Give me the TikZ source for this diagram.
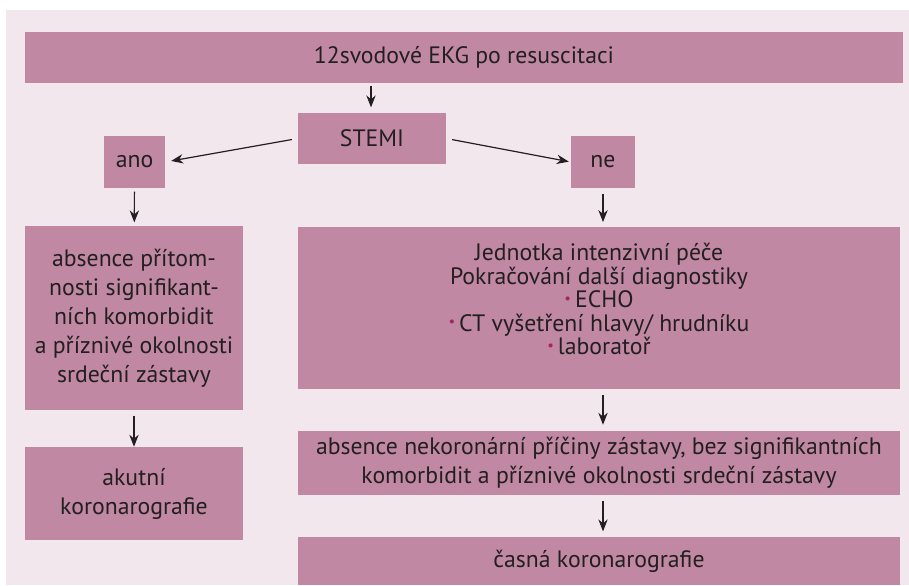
\documentclass[tikz,border=0pt]{standalone}
\usepackage{fontspec}
\setmainfont{PT Sans}
\usepackage{tikz}
\usetikzlibrary{arrows.meta}
\definecolor{boxpink}{RGB}{192,136,163}
\definecolor{backpink}{RGB}{243,231,238}
\definecolor{dotpink}{RGB}{160,40,100}
\definecolor{inkgrey}{RGB}{35,31,32}
\newcommand{\dotitem}{{\color{dotpink}\raisebox{0.18em}{\fontsize{11}{11}\selectfont\textbullet}}\,}

\begin{document}
\begin{tikzpicture}[x=0.75pt,y=-0.75pt,
    flowbox/.style={fill=boxpink,draw=none,inner sep=0pt,align=center,
      text=inkgrey,font=\fontsize{17.8}{21.75}\selectfont},
    flowarrow/.style={-{Stealth[length=9pt,width=7pt]},line width=0.9pt,draw=inkgrey}]
    % page and background
    \useasboundingbox (0,0) rectangle (909,585);
    \fill[backpink] (6,10) rectangle (909,585);
    % boxes
    \node[flowbox,minimum width=878*0.75pt,minimum height=51*0.75pt] (ekg) at (464,57.5)
      {12svodové EKG po resuscitaci};
    \node[flowbox,minimum width=148*0.75pt,minimum height=51*0.75pt] (stemi) at (372,138.5)
      {STEMI};
    \node[flowbox,minimum width=61*0.75pt,minimum height=52*0.75pt] (ano) at (134.5,162)
      {ano};
    \node[flowbox,minimum width=64*0.75pt,minimum height=52*0.75pt] (ne) at (603,162)
      {ne};
    \node[flowbox,minimum width=218*0.75pt,minimum height=184*0.75pt] (bezkomorb) at (134,318)
      {absence přítom-\\nosti signifikant-\\ních komorbidit\\a příznivé okolnosti\\srdeční zástavy};
    \node[flowbox,minimum width=602*0.75pt,minimum height=162*0.75pt] (jip) at (599,308) {};
    \node[flowbox,font=\fontsize{17.8}{17.6}\selectfont,fill=none] (jiptext) at (599,299)
      {Jednotka intenzivní péče\\Pokračování další diagnostiky\\\dotitem ECHO\\
       \dotitem CT vyšetření hlavy/ hrudníku\\\dotitem laboratoř};
    \node[flowbox,minimum width=602*0.75pt,minimum height=64*0.75pt] (nekoron) at (599,463)
      {absence nekoronární příčiny zástavy, bez signifikantních\\komorbidit a příznivé okolnosti srdeční zástavy};
    \node[flowbox,minimum width=218*0.75pt,minimum height=93*0.75pt] (akutni) at (134,493.5)
      {akutní\\koronarografie};
    \node[flowbox,minimum width=602*0.75pt,minimum height=48*0.75pt] (casna) at (599,561)
      {časná koronarografie};
    % arrows
    \draw[flowarrow,shorten <=2pt,shorten >=4pt] (ekg.south -| 371,0) -- (stemi.north -| 371,0);
    \draw[flowarrow,shorten <=4.5pt,shorten >=4.5pt] (stemi.west) -- (ano.east);
    \draw[flowarrow,shorten <=4.5pt,shorten >=1.5pt] (stemi.east) -- (ne.west);
    \draw[flowarrow,shorten <=2.5pt,shorten >=2.5pt] (ano) -- (bezkomorb);
    \draw[flowarrow,shorten <=4pt,shorten >=3.5pt] (ne) -- (jip.north -| ne);
    \draw[flowarrow,shorten <=4pt,shorten >=4.5pt] (jip.south -| ne) -- (nekoron.north -| ne);
    \draw[flowarrow,shorten <=4pt,shorten >=4pt] (nekoron.south -| ne) -- (casna.north -| ne);
    \draw[flowarrow,shorten <=4pt,shorten >=0pt] (bezkomorb.south) -- (akutni.north);
\end{tikzpicture}
\end{document}
